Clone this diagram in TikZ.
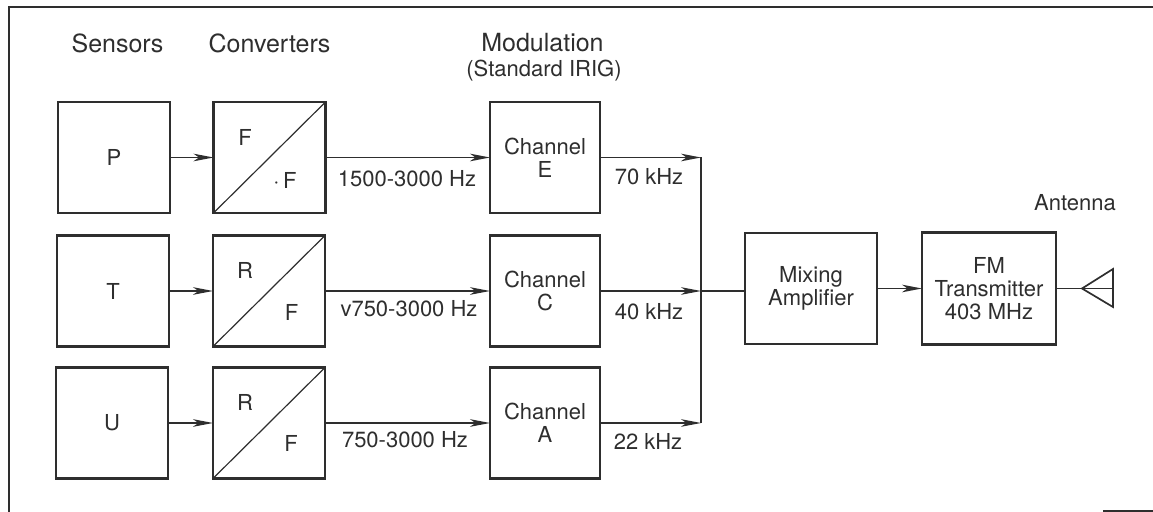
\documentclass[tikz,border=0pt]{standalone}
\usepackage{fontspec}
\setmainfont{TeX Gyre Heros}
\usetikzlibrary{arrows.meta,calc}
\definecolor{ink}{gray}{0.18}
\begin{document}
\begin{tikzpicture}[x=0.5pt,y=-0.5pt,
  blk/.style={draw=ink, line width=1.4pt, minimum width=56pt, minimum height=55.5pt,
    inner sep=0pt, outer sep=0pt, align=center, text=ink,
    font=\fontsize{11}{11.4}\selectfont},
  conn/.style={draw=ink, line width=0.85pt},
  arr/.style={conn, -{Stealth[length=10pt,width=3.8pt,inset=2.8pt]}},
  lbl/.style={font=\fontsize{11}{13}\selectfont, text=ink, inner sep=0pt, anchor=base},
  hdr/.style={font=\fontsize{12.5}{15}\selectfont, text=ink, inner sep=0pt, anchor=base},
  cvt/.style={font=\fontsize{11}{13}\selectfont, text=ink, inner sep=0pt},
  diag/.style={draw=ink, line width=0.6pt},
  frame/.style={draw=ink, line width=1.1pt},
]
\useasboundingbox (0,0) rectangle (1153,512);

% frame
\draw[frame] (9,512) -- (9,7) -- (1153,7);
\draw[frame] (1103,511) -- (1153,511);

% headers
\node[hdr] (hS) at (117.5,53) {Sensors};
\node[hdr] (hC) at (269.5,53) {Converters};
\node[hdr] (hM) at (542.5,52) {Modulation};
\node[lbl] (hM2) at (544,77) {(Standard IRIG)};
\node[lbl] (hA) at (1075,211) {Antenna};

% sensors
\node[blk] (s1) at (114,157.5) {P};
\node[blk] (s2) at (113,291) {T};
\node[blk] (s3) at (112,423) {U};

% converters
\node[blk] (c1) at (269.5,157.5) {};
\node[blk] (c2) at (269,291) {};
\node[blk] (c3) at (269,423) {};
\foreach \c in {c1,c2,c3} {\draw[diag] (\c.south west) -- (\c.north east);}
\node[cvt] (c1a) at ($(c1)+(-24.5,-20.5)$) {F};
\node[cvt] (c1b) at ($(c1)+(15.5,22.5)$) {·\,F};
\node[cvt] (c2a) at ($(c2)+(-24,-20.5)$) {R};
\node[cvt] (c2b) at ($(c2)+(22.5,21.5)$) {F};
\node[cvt] (c3a) at ($(c3)+(-24,-20.5)$) {R};
\node[cvt] (c3b) at ($(c3)+(22,20)$) {F};

% channels
\node[blk, minimum width=55pt] (chE) at (545,157.5) {Channel\\E};
\node[blk, minimum width=55pt] (chC) at (545,291) {Channel\\C};
\node[blk, minimum width=55pt] (chA) at (545,423) {Channel\\A};

% mixing and transmitter
\node[blk, minimum width=66pt] (mix) at (811,288.5) {Mixing\\Amplifier};
\node[blk, minimum width=67pt, minimum height=56pt] (fm) at (989,288.5) {FM\\Transmitter\\403 MHz};

% sensor -> converter
\draw[arr] (s1) -- (c1);
\draw[arr] (s2) -- (c2);
\draw[arr] (s3) -- (c3);
% converter -> channel
\draw[arr] (c1) -- (chE);
\draw[arr] (c2) -- (chC);
\draw[arr] (c3) -- (chA);

% frequency labels
\node[lbl] (f1) at (407,187) {1500-3000 Hz};
\node[lbl] (f2) at (409,317) {v750-3000 Hz};
\node[lbl] (f3) at (405,448) {750-3000 Hz};
\node[lbl] (k1) at (649,185) {70 kHz};
\node[lbl] (k2) at (649,320) {40 kHz};
\node[lbl] (k3) at (648,450) {22 kHz};

% bus
\coordinate (b1) at (701,157.5);
\coordinate (b2) at (701,291);
\coordinate (b3) at (701,423);
\draw[arr] (chE) -- (b1);
\draw[arr] (chC) -- (b2);
\draw[arr] (chA) -- (b3);
\draw[conn] (b1) -- (b3);
\draw[conn] (b2) -- (b2 -| mix.west);

% mixing -> transmitter
\draw[arr] (mix) -- (fm);

% antenna
\coordinate (apex) at (1082,288.5);
\coordinate (atop) at (1113,269);
\coordinate (abot) at (1113,307);
\coordinate (aend) at (1113,288.5);
\draw[conn] (fm.east) -- (aend);
\draw[conn] (atop) -- (apex) -- (abot) -- cycle;
\end{tikzpicture}
\end{document}
